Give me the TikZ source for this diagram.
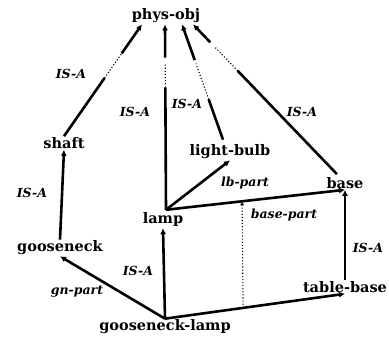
\documentclass[tikz,border=0pt]{standalone}
\usepackage{fontspec}
\setmainfont{DejaVu Serif}
\usetikzlibrary{arrows.meta,calc}
\tikzset{
  obj/.style={font=\bfseries\fontsize{14.5}{14.5}\selectfont, inner sep=1pt},
  lab/.style={font=\bfseries\itshape\fontsize{12.5}{12.5}\selectfont, inner sep=0pt},
  edge/.style={line width=2.6pt},
  thin dots/.style={line width=1.1pt, dotted},
  tip/.style={-{Latex[length=6pt,width=6pt]}}
}
\begin{document}
\begin{tikzpicture}[x=1pt,y=-1pt]
\useasboundingbox (0,0) rectangle (389,337);
% nodes
\node[obj] (phys) at (166,16) {phys-obj};
\node[obj] (shaft) at (64,143) {shaft};
\node[obj] (bulb) at (230,152) {light-bulb};
\node[obj] (lamp) at (163,220) {lamp};
\node[obj] (base) at (345,183) {base};
\node[obj] (goose) at (60,248) {gooseneck};
\node[obj] (tbase) at (345,287) {table-base};
\node[obj] (glamp) at (165,327) {gooseneck-lamp};
% anchor points
\coordinate (pA) at ([xshift=-24pt]phys.south);
\coordinate (pB) at ([xshift=-1pt]phys.south);
\coordinate (pC) at ([xshift=16pt]phys.south);
\coordinate (pD) at ([xshift=27pt]phys.south);
\coordinate (lampTop) at ([xshift=3pt,yshift=2pt]lamp.north);
\coordinate (bulbTop) at ([xshift=-7pt,yshift=4pt]bulb.north);
\coordinate (baseTop) at ([xshift=-8pt,yshift=2pt]base.north);
% shaft -> phys-obj
\path (shaft.north) -- (pA) coordinate[pos=0.52] (s1) coordinate[pos=0.74] (s2);
\draw[edge] (shaft.north) -- (s1);
\draw[thin dots] (s1) -- (s2);
\draw[edge,tip] (s2) -- (pA);
% lamp -> phys-obj
\path (lampTop) -- (pB) coordinate[pos=0.66] (l1) coordinate[pos=0.79] (l2) coordinate[pos=0.82] (l3);
\draw[edge] (lampTop) -- (l1);
\draw[thin dots] (l1) -- (l2);
\draw[edge,tip] (l3) -- (pB);
% light-bulb -> phys-obj
\path (bulbTop) -- (pC) coordinate[pos=0.35] (b1) coordinate[pos=0.66] (b2) coordinate[pos=0.69] (b3);
\draw[edge] (bulbTop) -- (b1);
\draw[thin dots] (b1) -- (b2);
\draw[edge,tip] (b3) -- (pC);
% base -> phys-obj
\path (baseTop) -- (pD) coordinate[pos=0.69] (c1) coordinate[pos=0.85] (c2) coordinate[pos=0.88] (c3);
\draw[edge] (baseTop) -- (c1);
\draw[thin dots] (c1) -- (c2);
\draw[edge,tip] (c3) -- (pD);
% other links
\draw[edge,tip] (goose.north) -- (shaft.south);
\draw[edge,tip] (glamp.north) -- (lamp.south);
\draw[edge,tip] (glamp.north) -- (goose.south);
\draw[edge,tip] (lampTop) -- (bulb.south);
\draw[edge,tip] (lampTop) -- (base.south);
\draw[edge,tip] (glamp.north) -- (tbase.south);
\draw[edge,tip] (tbase.north) -- (base.south);
% dotted base-part inheritance
\path (glamp.north) -- (tbase.south) coordinate[pos=0.434] (d1);
\path (lampTop) -- (base.south) coordinate[pos=0.425] (d2);
\draw[thin dots,-{Latex[length=4pt,width=4pt]}] (d1) -- (d2);
% labels
\node[lab] (t1) at (71,74) {IS-A};
\node[lab] (t2) at (135,112) {IS-A};
\node[lab] (t3) at (187,104) {IS-A};
\node[lab] (t4) at (302,112) {IS-A};
\node[lab] (t5) at (245,183) {lb-part};
\node[lab] (t6) at (32,193) {IS-A};
\node[lab] (t7) at (284,215) {base-part};
\node[lab] (t8) at (368,248) {IS-A};
\node[lab] (t9) at (138,271) {IS-A};
\node[lab] (t10) at (77,292) {gn-part};
\end{tikzpicture}
\end{document}
